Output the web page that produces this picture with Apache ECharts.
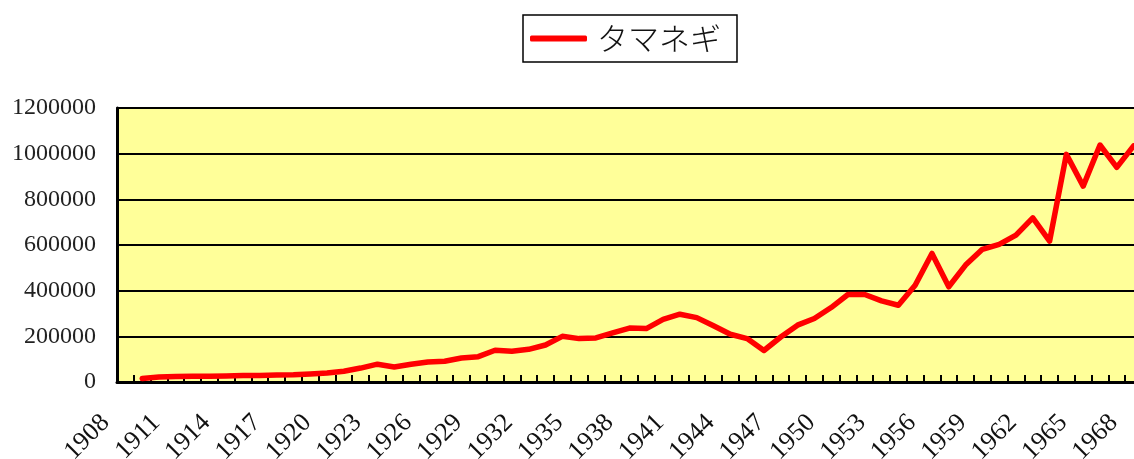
<!DOCTYPE html>
<html>
<head>
<meta charset="UTF-8">
<script src="https://cdn.jsdelivr.net/npm/echarts@6/dist/echarts.min.js"></script>
<style>
  html, body { margin: 0; padding: 0; background: #ffffff; }
  #chart { width: 1134px; height: 459px; }
</style>
</head>
<body>
<div id="chart"></div>
<script type="text/javascript">
// Years on the category axis (1908 has no value)
const years = [];
for (let y = 1908; y <= 1968; y++) years.push(String(y));

const seriesName = 'タマネギ';

// Onion values, 1908 .. 1968
const onion = [
    null,
    15000, 22000, 24000, 25000, 25000, 26000, 28000, 29000, 31000, 32000, 35000,
    39000, 47000, 61000, 78000, 66000, 78000, 88000, 91000, 105000, 111000,
    139000, 135000, 143000, 162000, 200000, 190000, 193000, 215000, 236000, 234000,
    274000, 297000, 282000, 246000, 209000, 190000, 138000, 197000, 249000, 278000,
    326000, 383000, 383000, 355000, 336000, 424000, 563000, 417000, 512000, 581000,
    603000, 643000, 719000, 617000, 997000, 858000, 1038000, 940000, 1034000
];

const chart = echarts.init(document.getElementById('chart'));

const option = {
    backgroundColor: '#ffffff',
    animation: false,
    legend: {
        left: 523,
        top: 15,
        padding: [8, 16, 8, 7],
        backgroundColor: '#ffffff',
        borderColor: '#000000',
        borderWidth: 1.5,
        icon: 'roundRect',
        itemWidth: 57,
        itemHeight: 6,
        textStyle: {
            fontFamily: 'Noto Sans CJK JP',
            fontSize: 31,
            fontWeight: 300,
            color: '#111',
            padding: [0, 0, 0, 5]
        },
        data: [seriesName]
    },
    grid: {
        left: 117,
        top: 108,
        right: -8,
        bottom: 77,
        containLabel: false,
        outerBoundsMode: 'none',
        show: true,
        backgroundColor: '#FFFF99',
        borderColor: '#808080',
        borderWidth: 2
    },
    xAxis: {
        type: 'category',
        data: years,
        boundaryGap: true,
        axisLine: { show: true, lineStyle: { color: '#000', width: 3 } },
        axisTick: {
            show: true,
            inside: true,
            interval: 0,
            length: 7,
            lineStyle: { color: '#000', width: 2 }
        },
        axisLabel: {
            interval: 2,
            rotate: 45,
            margin: 17,
            padding: [0, 28, 0, 0],
            fontFamily: 'Liberation Serif',
            fontSize: 26,
            color: '#111'
        },
        splitLine: { show: false }
    },
    yAxis: {
        type: 'value',
        min: 0,
        max: 1200000,
        interval: 200000,
        axisLine: { show: true, lineStyle: { color: '#000', width: 3 } },
        axisTick: { show: false },
        axisLabel: {
            margin: 21,
            fontFamily: 'Liberation Serif',
            fontSize: 24,
            color: '#222',
            formatter: function (v) { return String(v); }
        },
        splitLine: { show: true, lineStyle: { color: '#000', width: 2 } }
    },
    series: [
        {
            name: seriesName,
            type: 'line',
            data: onion,
            symbol: 'none',
            connectNulls: false,
            lineStyle: { color: '#FF0000', width: 5.5, cap: 'round', join: 'round' },
            itemStyle: { color: '#FF0000' }
        }
    ]
};

chart.setOption(option);
</script>
</body>
</html>
